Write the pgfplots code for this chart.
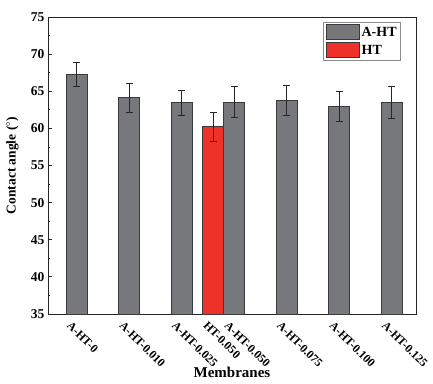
\documentclass[border=0pt]{standalone}
\usepackage{fontspec}
\setmainfont{Liberation Serif}
\usepackage{pgfplots}
\pgfplotsset{compat=1.18}
\definecolor{bargray}{HTML}{77787C}
\definecolor{barred}{HTML}{EE3129}
\definecolor{baredge}{HTML}{3A3A3C}
\begin{document}
\begin{tikzpicture}[x=1pt,y=1pt]
\begin{axis}[
  scale only axis,
  width=368pt, height=297pt,
  at={(0,0)}, anchor=south west,
  xmin=-0.55, xmax=6.46,
  ymin=35, ymax=75,
  ytick={35,40,...,75},
  minor y tick num=1,
  ytick pos=left,
  tick align=inside,
  major tick length=4pt,
  minor tick length=2.5pt,
  xtick={0,1,2,2.6,3,4,5,6},
  xticklabels={A-HT-0,A-HT-0.010,A-HT-0.025,HT-0.050,A-HT-0.050,A-HT-0.075,A-HT-0.100,A-HT-0.125},
  xtick style={draw=none},
  xticklabel style={rotate=-45, anchor=north west, font=\fontsize{11.8}{12.5}\selectfont\bfseries, xshift=-5pt, yshift=-2pt},
  yticklabel style={font=\fontsize{13.5}{14}\selectfont\bfseries},
  /pgf/number format/assume math mode=true,
  xlabel={\fontsize{15}{16}\selectfont\bfseries Membranes},
  ylabel={\fontsize{13.5}{14}\selectfont\bfseries Contact angle ($^{\circ}$)},
  xlabel style={at={(axis description cs:0.5,-0.174)}, anchor=north, inner sep=1pt},
  ylabel style={at={(axis description cs:-0.07,0.5)}, anchor=south, rotate=0},
  axis line style={line width=0.9pt, black!85},
  every tick/.style={line width=0.8pt, black!85},
  ybar, bar width=0.4, bar shift=0pt,
  legend style={at={(0.959,0.983)}, anchor=north east, draw=black!45, line width=0.6pt,
    font=\fontsize{14}{15}\selectfont\bfseries, row sep=2pt, inner sep=2pt,
    legend cell align=left},
  legend image code/.code={\draw[#1, line width=0.9pt] (0pt,-7.5pt) rectangle (33pt,7.5pt);},
  error bars/y dir=both, error bars/y explicit,
  error bars/error bar style={line width=0.8pt, black!85},
  error bars/error mark options={rotate=90, mark size=3.5pt, line width=0.8pt, black!85},
]
\addplot[fill=bargray, draw=baredge, line width=0.9pt] coordinates {
  (0,67.25) +- (0,1.6)
  (1,64.1) +- (0,1.9)
  (2,63.45) +- (0,1.65)
  (3,63.55) +- (0,2.1)
  (4,63.75) +- (0,2.0)
  (5,63.0) +- (0,2.0)
  (6,63.5) +- (0,2.1)
};
\addlegendentry{A-HT}
\addplot[fill=barred, draw=baredge, line width=0.9pt] coordinates {
  (2.6,60.2) +- (0,1.9)
};
\addlegendentry{HT}
\end{axis}
\pgfresetboundingbox
\path[use as bounding box] (-48pt,-69pt) rectangle (385pt,314pt);
\end{tikzpicture}
\end{document}
